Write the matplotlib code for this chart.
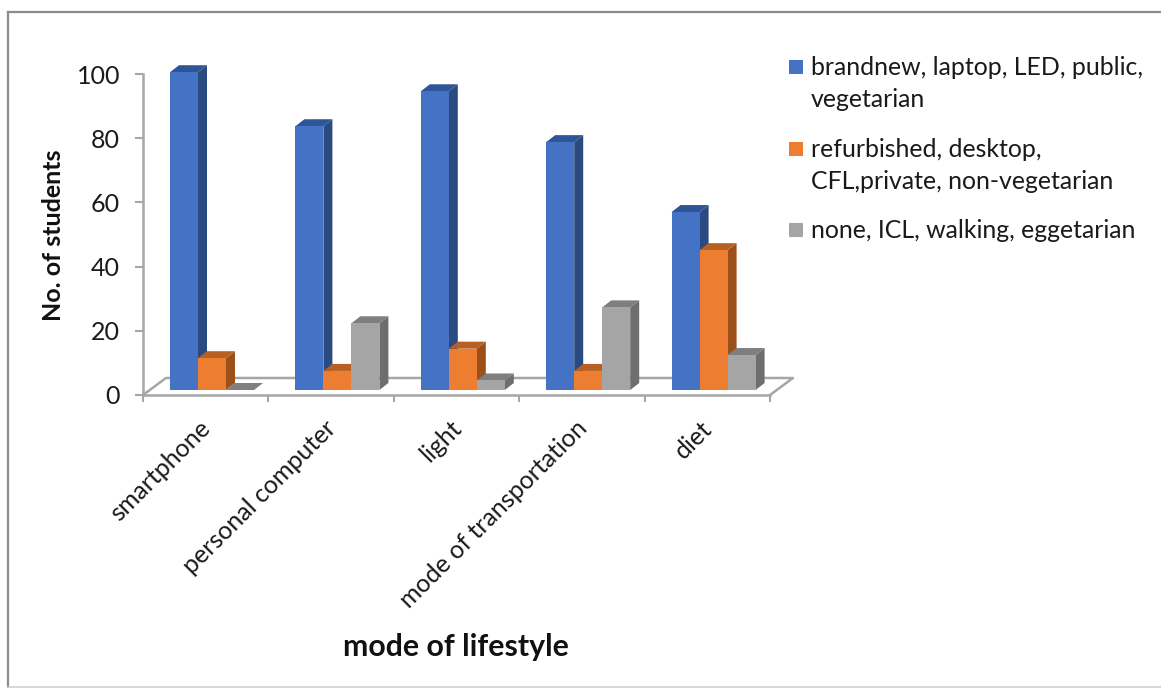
import numpy as np
import matplotlib
matplotlib.use('Agg')
import matplotlib.pyplot as plt
from matplotlib.lines import Line2D
from matplotlib.patches import Polygon, Rectangle
from matplotlib.transforms import ScaledTranslation

plt.rcParams['font.family'] = ['Lato', 'DejaVu Sans']

# values
categories = ['smartphone', 'personal computer', 'light', 'mode of transportation', 'diet']
series_a = [100, 83, 94, 78, 56]
series_b = [10, 6, 13, 6, 44]
series_c = [0, 21, 3, 26, 11]
legend_labels = ['brandnew, laptop, LED, public,\nvegetarian',
                 'refurbished, desktop,\nCFL,private, non-vegetarian',
                 'none, ICL, walking, eggetarian']
y_ticks = [0, 20, 40, 60, 80, 100]

# colours: front, top, side of each bar
colors = [('#4472c4', '#2f5597', '#2a4a80'),
          ('#ed7d31', '#b85f22', '#9c5019'),
          ('#a5a5a5', '#7f7f7f', '#6e6e6e')]
axis_color = '#a6a6a6'
text_color = '#1a1a1a'

W, H = 1161, 688
fig = plt.figure(figsize=(W / 100, H / 100), dpi=100)
ax = fig.add_axes([143 / W, 1 - 395 / H, (770 - 143) / W, 321 / H])
ax.set_xlim(0, 5)
ax.set_ylim(0, 100)

# pixels to data units
px_x = 5 / (770 - 143)
px_y = 100 / 321

# floor of the fake 3d box
floor_dx, floor_dy = 23 * px_x, 17 * px_y
ax.plot([0, floor_dx, 5 + floor_dx, 5], [0, floor_dy, floor_dy, 0],
        color=axis_color, lw=1.8, clip_on=False, zorder=1)

# bars
bar_w = 28 * px_x
depth_x, depth_y = 9 * px_x, 7 * px_y
base = 5 * px_y
shrink = 0.99
start = 27 * px_x
for s, values in enumerate([series_a, series_b, series_c]):
    front, top_c, side_c = colors[s]
    for i, v in enumerate(values):
        x0 = i + start + s * bar_w
        x1 = x0 + bar_w
        y1 = base + v * shrink
        ax.add_patch(Polygon([(x1, base), (x1 + depth_x, base + depth_y),
                              (x1 + depth_x, y1 + depth_y), (x1, y1)],
                             fc=side_c, ec='none', clip_on=False, zorder=2 + s))
        ax.add_patch(Polygon([(x0, y1), (x0 + depth_x, y1 + depth_y),
                              (x1 + depth_x, y1 + depth_y), (x1, y1)],
                             fc=top_c, ec='none', clip_on=False, zorder=2 + s))
        if v > 0:
            ax.bar(x0, v * shrink, bar_w, bottom=base, align='edge', color=front,
                   clip_on=False, zorder=2 + s)

# axes
for side in ['top', 'right']:
    ax.spines[side].set_visible(False)
for side in ['left', 'bottom']:
    ax.spines[side].set_color(axis_color)
    ax.spines[side].set_linewidth(1.8)
ax.patch.set_alpha(0)
ax.set_yticks(y_ticks)
ax.set_xticks(range(6))
ax.set_xticklabels([])
ax.set_xticks(np.arange(5) + 0.5, minor=True)
ax.set_xticklabels(categories, minor=True, rotation=45, ha='right',
                   rotation_mode='anchor', fontsize=18, color=text_color)
ax.tick_params(axis='x', which='major', length=5, width=1.5, color=axis_color)
ax.tick_params(axis='x', which='minor', length=0, pad=15.5)
ax.tick_params(axis='y', length=6, width=1.5, color=axis_color, pad=10.5,
               labelsize=18, labelcolor=text_color)

# nudge the slanted labels to the left
nudge = ScaledTranslation(-7 / 100, 0, fig.dpi_scale_trans)
for label in ax.get_xticklabels(minor=True):
    label.set_transform(label.get_transform() + nudge)

fig.text(53.5 / W, 1 - 235 / H, 'No. of students', rotation=90, fontsize=18,
         fontweight='bold', ha='center', va='center', color='#111111')
fig.text(456 / W, 1 - 647 / H, 'mode of lifestyle', fontsize=21.8,
         fontweight='bold', ha='center', va='center', color='#111111')

# legend drawn by hand to get the line spacing
legend_y = [67, 149, 230]
for (front, _, _), label, y in zip(colors, legend_labels, legend_y):
    fig.add_artist(Rectangle((789 / W, 1 - (y + 7) / H), 14 / W, 14 / H, fc=front,
                             ec='none', transform=fig.transFigure))
    fig.text(811 / W, 1 - (y - 11) / H, label, fontsize=17.9, color=text_color,
             va='top', ha='left', linespacing=1.48)

# outer frame, no right side in the reference
frame = [([7.5, 1161], [12, 12], '#8c8c8c', 1.6),
         ([7.5, 7.5], [12, 688], '#8c8c8c', 1.6),
         ([7.5, 1161], [687, 687], '#d0d0d0', 1.2)]
for xs, ys, col, lw in frame:
    fig.add_artist(Line2D([x / W for x in xs], [1 - y / H for y in ys], color=col, lw=lw,
                          transform=fig.transFigure))

fig.savefig('out.png', dpi=100)
